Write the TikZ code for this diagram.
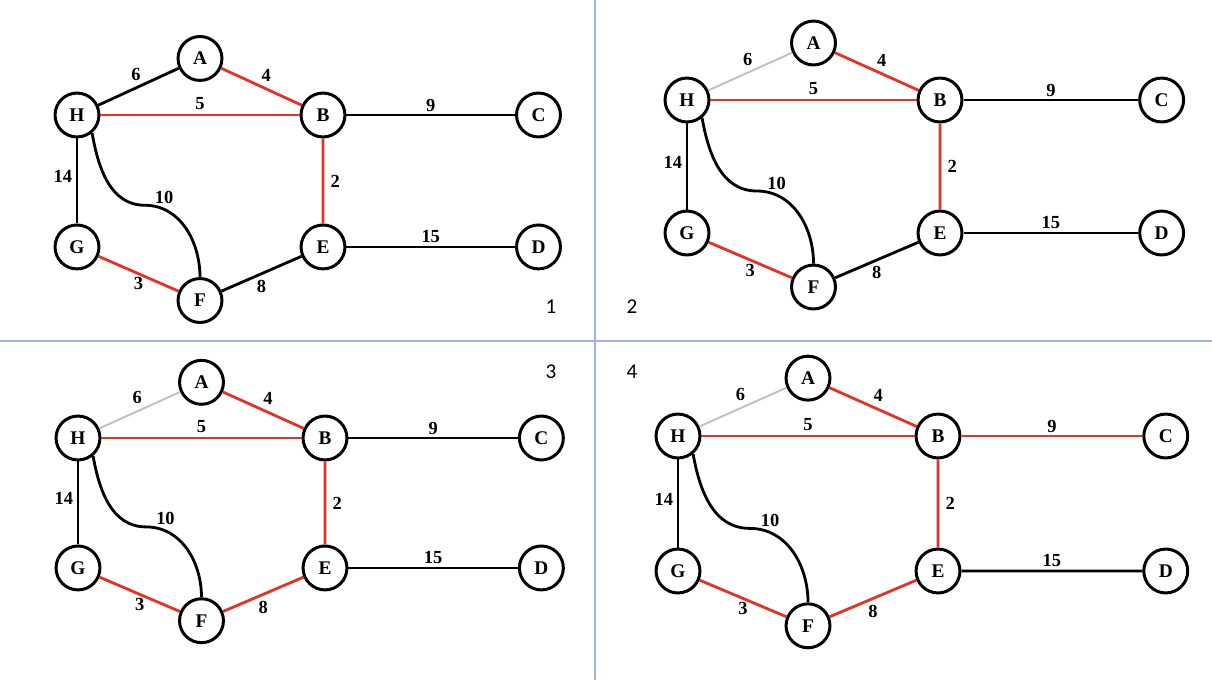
\documentclass[tikz,border=0pt]{standalone}
\usepackage{fontspec}
\setmainfont{Liberation Serif}
\newfontfamily\numfont{Carlito}
\usetikzlibrary{positioning}
\definecolor{mstred}{RGB}{228,50,38}
\definecolor{dropgray}{RGB}{192,192,192}
\definecolor{gridblue}{RGB}{162,180,222}
\tikzset{
  vtx/.style={circle,draw=black,line width=1.7pt,minimum size=25pt,inner sep=0pt,
              font=\fontsize{11}{13}\selectfont\bfseries},
  wt/.style={font=\fontsize{10.5}{12}\selectfont\bfseries,inner sep=1pt},
  kedge/.style={draw=black,line width=1.6pt},
  redge/.style={draw=mstred,line width=1.6pt},
  gedge/.style={draw=dropgray,line width=1.1pt},
  pnum/.style={font=\numfont\fontsize{12}{14}\selectfont,inner sep=0pt},
  sep/.style={draw=gridblue,line width=0.9pt}
}
% one panel of the graph: #1 prefix, #2 style of H-A, #3 style of B-C, #4 style of F-E
\newcommand{\mstpanel}[4]{%
  \node[vtx] (#1H) at (0,0)     {H};
  \node[vtx] (#1A) at (125,-57) {A};
  \node[vtx] (#1B) at (250,0)   {B};
  \node[vtx] (#1C) at (469,0)   {C};
  \node[vtx] (#1G) at (0,133)   {G};
  \node[vtx] (#1E) at (250,133) {E};
  \node[vtx] (#1D) at (469,133) {D};
  \node[vtx] (#1F) at (125,187) {F};
  \coordinate (#1K) at (69,91);
  \draw[#2] (#1H) -- node[wt,above=2.5pt,pos=0.47] {6} (#1A);
  \draw[redge] (#1A) -- node[wt,above=2.5pt,pos=0.56] {4} (#1B);
  \draw[redge] (#1H) -- node[wt,above=1pt] {5} (#1B);
  \draw[#3] (#1B) -- node[wt,above=0pt] {9} (#1C);
  \draw[redge] (#1B) -- node[wt,right=2.5pt] {2} (#1E);
  \draw[kedge] (#1H) -- node[wt,left=1pt,pos=0.45] {14} (#1G);
  \draw[kedge] (#1H.-50) to[out=-80,in=180] (#1K)
    to[out=0,in=90] node[wt,above=1.5pt,pos=0.2] {10} (#1F.north);
  \draw[redge] (#1G) -- node[wt,below=0.5pt] {3} (#1F);
  \draw[#4] (#1F) -- node[wt,below=2pt] {8} (#1E);
  \draw[kedge] (#1E) -- node[wt,above=0.5pt] {15} (#1D);
}

\begin{document}
\begin{tikzpicture}[x=0.02cm,y=-0.02cm]
  \useasboundingbox (0,0) rectangle (1212,680);

  % quadrant lines
  \coordinate (vt) at (595,0);   \coordinate (vb) at (595,680);
  \coordinate (hl) at (0,341);   \coordinate (hr) at (1212,341);
  \draw[sep] (vt) -- (vb);
  \draw[sep] (hl) -- (hr);

  \node[pnum] (n1) at (551,307) {1};
  \node[pnum] (n2) at (632,307) {2};
  \node[pnum] (n3) at (551,372) {3};
  \node[pnum] (n4) at (632,372) {4};

  \begin{scope}[shift={(77,115)},xscale=0.984,yscale=0.992]
    \mstpanel{p}{kedge}{kedge}{kedge}
  \end{scope}
  \begin{scope}[shift={(687,100)},xscale=1.012]
    \mstpanel{q}{gedge}{kedge}{kedge}
  \end{scope}
  \begin{scope}[shift={(78,438)},xscale=0.988,yscale=0.977]
    \mstpanel{r}{gedge}{kedge}{redge}
  \end{scope}
  \begin{scope}[shift={(678,436)},xscale=1.04,yscale=1.015]
    \mstpanel{s}{gedge}{redge}{redge}
  \end{scope}
\end{tikzpicture}
\end{document}
